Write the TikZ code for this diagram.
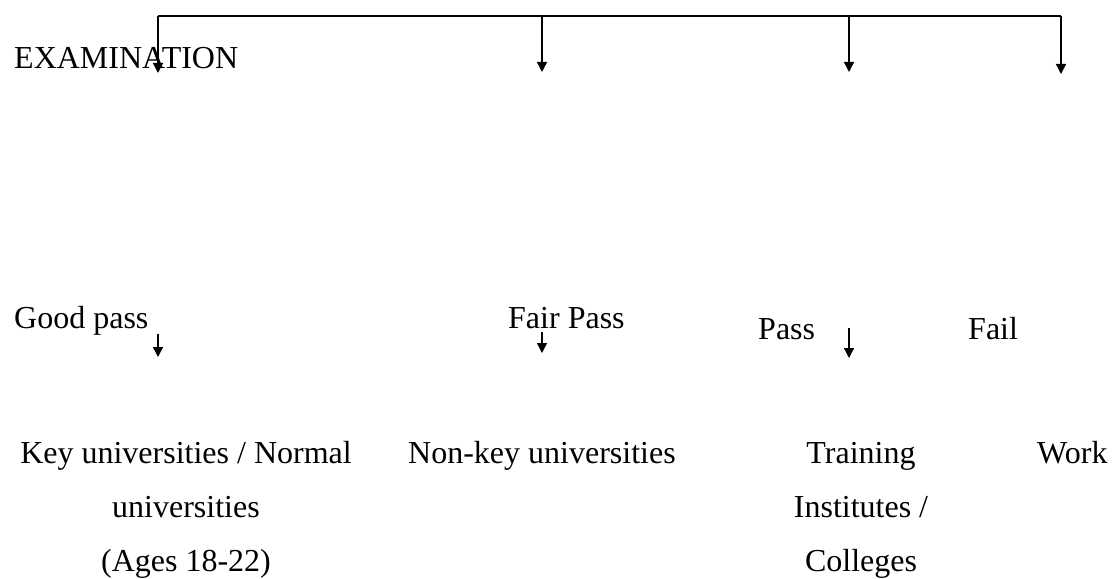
\documentclass[tikz,border=0pt]{standalone}
\usepackage{fontspec}
\setmainfont{Liberation Serif}
\usetikzlibrary{arrows.meta}
\begin{document}
\begin{tikzpicture}[x=1pt,y=-1pt,
  lbl/.style={inner sep=0pt, font=\fontsize{32}{54}\selectfont, align=center},
  ln/.style={line width=1.3pt},
  arr/.style={line width=1.3pt, -{Triangle[width=10pt,length=10pt]}}]
\useasboundingbox (0,0) rectangle (1113,578);
% top row
\node[lbl, anchor=base west] (exam) at (14,69) {EXAMINATION};
\coordinate (t1) at (158,16);
\coordinate (t2) at (542,16);
\coordinate (t3) at (849,16);
\coordinate (t4) at (1061,16);
\coordinate (e1) at (158,73);
\coordinate (e2) at (542,72);
\coordinate (e3) at (849,72);
\coordinate (e4) at (1061,74);
\draw[ln] (t1) -- (t4);
\draw[arr] (t1) -- (e1);
\draw[arr] (t2) -- (e2);
\draw[arr] (t3) -- (e3);
\draw[arr] (t4) -- (e4);
% middle row
\node[lbl, anchor=base west] (good) at (14,328) {Good pass};
\node[lbl, anchor=base west] (fair) at (508,328) {Fair Pass};
\node[lbl, anchor=base west] (pass) at (758,339) {Pass};
\node[lbl, anchor=base west] (fail) at (968,339) {Fail};
\coordinate (g1) at (158,334);
\coordinate (g2) at (158,357);
\coordinate (f1) at (542,332);
\coordinate (f2) at (542,353);
\coordinate (p1) at (849,328);
\coordinate (p2) at (849,358);
\draw[arr] (g1) -- (g2);
\draw[arr] (f1) -- (f2);
\draw[arr] (p1) -- (p2);
% bottom row
\node[lbl, anchor=base] (key) at (186,571) {Key universities / Normal\\universities\\(Ages 18-22)};
\node[lbl, anchor=base west] (nonkey) at (408,463) {Non-key universities};
\node[lbl, anchor=base] (train) at (861,571) {Training\\Institutes /\\Colleges};
\node[lbl, anchor=base west] (work) at (1037,463) {Work};
\end{tikzpicture}
\end{document}
